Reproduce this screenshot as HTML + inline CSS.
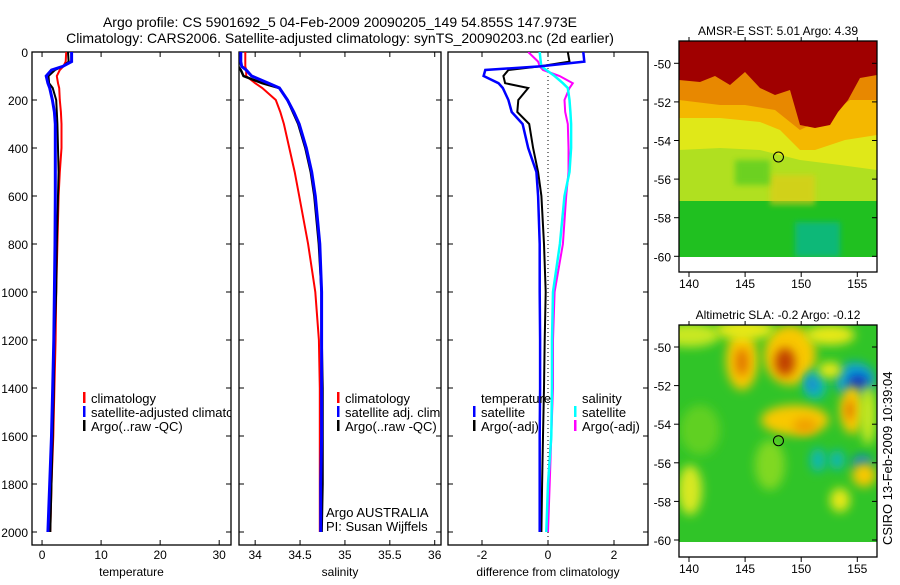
<!DOCTYPE html>
<html><head><meta charset="utf-8"><style>
html,body{margin:0;padding:0;background:#fff;}
svg text{font-family:"Liberation Sans",sans-serif;fill:#000;}
</style></head><body>
<svg id="fig" width="900" height="580" viewBox="0 0 900 580" xmlns="http://www.w3.org/2000/svg">
<defs>
<clipPath id="c1"><rect x="32" y="52" width="199" height="493"/></clipPath>
<clipPath id="c2"><rect x="239" y="52" width="202" height="493"/></clipPath>
<clipPath id="c3"><rect x="448" y="52" width="200" height="493"/></clipPath>
<clipPath id="cm2"><rect x="679" y="325" width="198" height="217"/></clipPath>
<clipPath id="cm1"><rect x="679" y="41" width="198" height="216"/></clipPath>
<filter id="bl" x="-50%" y="-50%" width="200%" height="200%"><feGaussianBlur stdDeviation="5"/></filter>
<filter id="bl2" x="-50%" y="-50%" width="200%" height="200%"><feGaussianBlur stdDeviation="3"/></filter>
</defs>
<text x="340" y="27" text-anchor="middle" font-size="14">Argo profile: CS 5901692_5 04-Feb-2009 20090205_149 54.855S 147.973E</text>
<text x="340" y="43" text-anchor="middle" font-size="14">Climatology: CARS2006. Satellite-adjusted climatology: synTS_20090203.nc (2d earlier)</text>
<g id="panels"></g>
<g id="maps"></g>
<text transform="translate(892,545) rotate(-90)" font-size="13">CSIRO 13-Feb-2009 10:39:04</text>
</svg>
<script>
// depth grid (m)
const depths = [0,40,60,75,100,130,150,200,250,300,400,500,600,800,1000,1200,1400,1600,1800,2000];
// temperature panel
const tempClim = [4.1,4.0,3.6,3.0,2.5,2.7,2.9,3.0,3.2,3.3,3.3,3.0,2.8,2.6,2.4,2.3,2.1,1.9,1.6,1.4];
const tempSat  = [5.0,5.0,3.5,1.6,0.7,1.0,1.3,1.75,2.1,2.25,2.25,2.25,2.25,2.2,2.1,2.0,1.8,1.6,1.3,1.0];
const tempArgo = [4.4,4.5,3.5,2.2,1.1,1.2,1.8,2.4,2.5,2.6,2.7,2.8,2.7,2.5,2.4,2.1,2.0,1.8,1.6,1.4];
// salinity panel
const salClim = [33.89,33.89,33.89,33.90,33.90,34.0,34.08,34.23,34.28,34.32,34.38,34.44,34.49,34.59,34.67,34.71,34.72,34.72,34.72,34.72];
const salSat  = [33.84,33.84,33.85,33.90,33.96,34.15,34.27,34.36,34.43,34.49,34.57,34.63,34.67,34.72,34.74,34.74,34.74,34.74,34.73,34.73];
const salArgo = [33.83,33.82,33.81,33.84,33.87,34.08,34.27,34.36,34.42,34.48,34.56,34.62,34.66,34.71,34.74,34.74,34.75,34.75,34.75,34.74];
// difference panel
const diffTempSat  = [1.07,1.1,-0.25,-1.9,-1.95,-1.5,-1.37,-1.2,-1.1,-0.77,-0.6,-0.35,-0.3,-0.25,-0.25,-0.24,-0.24,-0.25,-0.25,-0.25];
const diffTempArgo = [0.6,0.65,-0.25,-1.2,-1.35,-1.3,-0.6,-0.9,-0.93,-0.57,-0.45,-0.3,-0.2,-0.12,-0.07,-0.1,-0.12,-0.15,-0.18,-0.2];
const diffSalSat   = [-0.25,-0.22,-0.2,-0.05,0.2,0.45,0.6,0.65,0.68,0.7,0.7,0.65,0.5,0.36,0.15,0.12,0.12,0.1,0.0,-0.05];
const diffSalArgo  = [-0.6,-0.3,-0.25,-0.15,0.35,0.75,0.65,0.5,0.52,0.6,0.62,0.62,0.55,0.45,0.2,0.15,0.15,0.1,0.05,0.0];
const depthTicks = [0,200,400,600,800,1000,1200,1400,1600,1800,2000];
const tempTicks = [0,10,20,30];
const salTicks = [34,34.5,35,35.5,36];
const salTickLabels = ["34","34.5","35","35.5","36"];
const diffTicks = [-2,0,2];
const lonTicks = [140,145,150,155];
const latTicks = [-50,-52,-54,-56,-58,-60];

const NS="http://www.w3.org/2000/svg";
function mk(tag,attrs,parent){const e=document.createElementNS(NS,tag);for(const k in attrs)e.setAttribute(k,attrs[k]);parent.appendChild(e);return e;}
const yD = d => 52 + d*0.24;
const panelsG=document.getElementById('panels');

function panel(name,x0,x1,dmin,dmax,xticks,xlabels,xtitle,clip,series,leftLabels){
  const g=mk('g',{},panelsG);
  
  
  const sx=v=>x0+(v-dmin)/(dmax-dmin)*(x1-x0);
  const top=52,bot=545;
  const fr=mk('rect',{x:x0,y:top,width:x1-x0,height:bot-top,fill:'none',stroke:'#000','stroke-width':1.3},g);
  
  
  depthTicks.forEach(d=>{
    const y=yD(d);
    mk('line',{x1:x0,x2:x0+5,y1:y,y2:y,stroke:'#000'},g);
    mk('line',{x1:x1,x2:x1-5,y1:y,y2:y,stroke:'#000'},g);
    if(leftLabels){const t=mk('text',{x:x0-4,y:y+5,'text-anchor':'end','font-size':12},g);t.textContent=d;
      
      }
  });
  xticks.forEach((v,i)=>{
    const x=sx(v);
    mk('line',{x1:x,x2:x,y1:top,y2:top+5,stroke:'#000'},g);
    mk('line',{x1:x,x2:x,y1:bot,y2:bot-5,stroke:'#000'},g);
    const t=mk('text',{x:x,y:559,'text-anchor':'middle','font-size':12},g);t.textContent=xlabels[i];
    
    
  });
  const tt=mk('text',{x:(x0+x1)/2,y:576,'text-anchor':'middle','font-size':12},g);tt.textContent=xtitle;
  
  
  const sg=mk('g',{'clip-path':'url(#'+clip+')'},g);
  series.forEach(s=>{
    const pts=depths.map((d,i)=>sx(s.v[i]).toFixed(1)+','+yD(d).toFixed(1)).join(' ');
    const p=mk('polyline',{points:pts,fill:'none',stroke:s.c,'stroke-width':s.w,'stroke-linejoin':'miter'},sg);
    
    
  });
  return {g,sx,sg};
}
const p1=panel('temperature-panel',32,231,-1.7,32,tempTicks,tempTicks.map(String),'temperature','c1',
  [{v:tempClim,c:'#ff0000',w:2,n:'temp-climatology-line'},{v:tempArgo,c:'#000',w:2,n:'temp-argo-line'},{v:tempSat,c:'#0000ff',w:3,n:'temp-satellite-line'}],true);
const p2=panel('salinity-panel',239,441,33.82,36.07,salTicks,salTickLabels,'salinity','c2',
  [{v:salClim,c:'#ff0000',w:2,n:'sal-climatology-line'},{v:salArgo,c:'#000',w:2.5,n:'sal-argo-line'},{v:salSat,c:'#0000ff',w:3,n:'sal-satellite-line'}],false);
const p3=panel('difference-panel',448,648,-3.03,3.03,diffTicks,diffTicks.map(String),'difference from climatology','c3',
  [],false);
// zero dotted line
const zl=mk('line',{x1:p3.sx(0),x2:p3.sx(0),y1:52,y2:545,stroke:'#000','stroke-dasharray':'1,3'},p3.sg);


[{v:diffSalArgo,c:'#ff00ff',w:2,n:'diff-sal-argo-line'},{v:diffSalSat,c:'#00ffff',w:2.5,n:'diff-sal-satellite-line'},{v:diffTempArgo,c:'#000',w:2,n:'diff-temp-argo-line'},{v:diffTempSat,c:'#0000ff',w:2.5,n:'diff-temp-satellite-line'}].forEach(s=>{
  const pts=depths.map((d,i)=>p3.sx(s.v[i]).toFixed(1)+','+yD(d).toFixed(1)).join(' ');
  const p=mk('polyline',{points:pts,fill:'none',stroke:s.c,'stroke-width':s.w},p3.sg);
  
  
});

function legend(g,clip,bx,entries){
  const lg=mk('g',{'clip-path':'url(#'+clip+')'},g);
  
  
  entries.forEach(e=>{
    if(e.c){const r=mk('rect',{x:e.bx||bx,y:e.y-11,width:2.5,height:11,fill:e.c},lg);
      
      }
    const t=mk('text',{x:e.tx||(bx+8),y:e.y,'font-size':13},lg);t.textContent=e.t;
    
    
  });
}
legend(p1.g,'c1',83,[{c:'#ff0000',t:'climatology',y:403},{c:'#0000ff',t:'satellite-adjusted climatology',y:417},{c:'#000',t:'Argo(..raw -QC)',y:431}]);
legend(p2.g,'c2',337,[{c:'#ff0000',t:'climatology',y:403},{c:'#0000ff',t:'satellite adj. clim.',y:417},{c:'#000',t:'Argo(..raw -QC)',y:431},{t:'Argo AUSTRALIA',y:517,tx:326},{t:'PI: Susan Wijffels',y:531,tx:326}]);
legend(p3.g,'c3',473,[{t:'temperature',y:403,tx:481},{c:'#0000ff',t:'satellite',y:417},{c:'#000',t:'Argo(-adj)',y:431},{t:'salinity',y:403,tx:582},{c:'#00ffff',t:'satellite',y:417,bx:574,tx:582},{c:'#ff00ff',t:'Argo(-adj)',y:431,bx:574,tx:582}]);

// maps
const mapsG=document.getElementById('maps');
function mapAxes(name,top,imgBot,bot,title,lat50){
  const g=mk('g',{},mapsG);
  
  
  const sxl=l=>689+(l-140)*11.22;
  const syl=l=>lat50+(-50-l)*19.3;
  const t=mk('text',{x:778,y:top-6,'text-anchor':'middle','font-size':12},g);t.textContent=title;
  
  
  return {g,sxl,syl,finish(){
    const fr=mk('rect',{x:679,y:top,width:198,height:bot-top,fill:'none',stroke:'#000','stroke-width':1.3},g);
    
    
    latTicks.forEach(l=>{const y=syl(l);
      mk('line',{x1:679,x2:674,y1:y,y2:y,stroke:'#000'},g);
      mk('line',{x1:877,x2:872,y1:y,y2:y,stroke:'#000'},g);
      const tx=mk('text',{x:671,y:y+5,'text-anchor':'end','font-size':12},g);tx.textContent=l;
      
      });
    lonTicks.forEach(l=>{const x=sxl(l);
      mk('line',{x1:x,x2:x,y1:bot,y2:bot+5,stroke:'#000'},g);
      mk('line',{x1:x,x2:x,y1:top,y2:top-4,stroke:'#000'},g);
      const tx=mk('text',{x:x,y:bot+16,'text-anchor':'middle','font-size':12},g);tx.textContent=l;
      
      });
    const c=mk('circle',{cx:sxl(147.973),cy:syl(-54.855),r:5,fill:'none',stroke:'#000'},g);
    
    
  }};
}
// SST map
const m1=mapAxes('sst-map',41,257,272,'AMSR-E SST: 5.01 Argo: 4.39',63.3);
const i1=mk('g',{'clip-path':'url(#cm1)'},m1.g);


mk('rect',{x:679,y:41,width:198,height:216,fill:'#20c020'},i1);
mk('rect',{x:679,y:41,width:198,height:160,fill:'#b0e020'},i1);
mk('polygon',{points:'679,41 877,41 877,170 840,165 800,160 760,150 720,148 679,150',fill:'#e0e818'},i1);
mk('polygon',{points:'679,41 877,41 877,135 845,140 815,150 800,150 780,130 760,122 720,118 679,118',fill:'#f4b800'},i1);
mk('polygon',{points:'679,41 877,41 877,100 850,100 830,115 800,130 775,110 745,105 720,105 679,100',fill:'#e88800'},i1);
mk('polygon',{points:'679,41 877,41 877,75 860,78 848,100 838,112 830,125 815,128 800,125 790,90 775,95 760,88 745,72 730,85 715,76 700,82 679,80',fill:'#a00000'},i1);
mk('rect',{x:795,y:222,width:45,height:35,fill:'#10b878',filter:'url(#bl2)'},i1);
mk('rect',{x:770,y:175,width:45,height:30,fill:'#e8c818',filter:'url(#bl2)','opacity':0.6},i1);
mk('rect',{x:735,y:160,width:35,height:25,fill:'#40c820',filter:'url(#bl2)','opacity':0.6},i1);
m1.finish();
// SLA map
const m2=mapAxes('sla-map',325,542,557,'Altimetric SLA: -0.2 Argo: -0.12',347);
const i2=mk('g',{'clip-path':'url(#cm2)'},m2.g);


mk('rect',{x:679,y:325,width:198,height:217,fill:'#30c428'},i2);
const blobs=[[690,335,30,12,'#c8e820'],[742,360,16,30,'#f8c800'],[742,362,6,14,'#e07000'],[790,355,26,30,'#f8c800'],[785,362,10,14,'#c04000'],[745,330,30,10,'#e8e818'],[830,335,25,10,'#e8e818'],[815,385,12,15,'#10b8b0'],[812,384,5,7,'#2080e0'],[855,380,20,18,'#10a0d0'],[858,383,10,8,'#1030c0'],[830,370,12,8,'#e8e818'],[852,410,12,24,'#f8c800'],[850,410,5,10,'#e08000'],[795,420,34,15,'#f8c800'],[805,426,12,8,'#f0a000'],[868,415,8,30,'#c8e820'],[818,460,8,12,'#10b8b0'],[837,460,8,10,'#10b8b0'],[862,463,10,8,'#1080d0'],[864,475,12,12,'#f8c800'],[690,490,12,25,'#d8e820'],[770,465,15,25,'#80d820'],[840,500,10,12,'#e8e818'],[700,430,20,25,'#60d020']];
blobs.forEach(b=>{const e=mk('ellipse',{cx:b[0],cy:b[1],rx:b[2],ry:b[3],fill:b[4],filter:'url(#bl)'},i2);
  
  });
m2.finish();
</script>
</body></html>
